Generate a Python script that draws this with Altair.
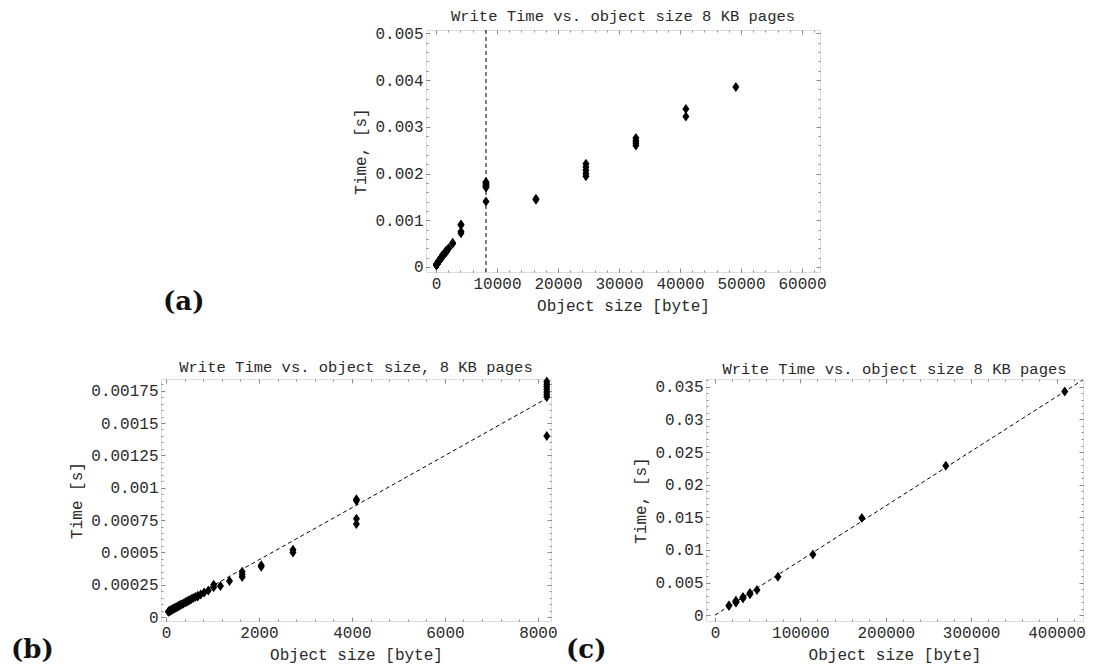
import altair as alt
import pandas as pd

# ---------------- data ----------------
small_sizes = [8192, 8192, 8192, 8192, 8192, 8192, 8192, 8192,
               4096, 4096, 4096, 4096,
               2731, 2731, 2048, 2048, 1638, 1638, 1638, 1365, 1170, 1024, 1024,
               910, 819, 745, 683, 683, 630, 585, 546, 512, 482, 455, 431, 410,
               372, 341, 315, 293, 273, 256, 234, 216, 200, 182, 164, 149, 137,
               120, 109, 96, 85, 74, 64, 55, 50]
small_times = [0.0014, 0.0017, 0.00172, 0.00174, 0.00176, 0.00178, 0.0018, 0.00182,
               0.00072, 0.00076, 0.0009, 0.00091,
               0.0005, 0.00052, 0.00039, 0.0004, 0.00031, 0.00033, 0.00035, 0.00028, 0.00024, 0.00023, 0.00025,
               0.000205, 0.00019, 0.000175, 0.000165, 0.00016, 0.000155, 0.000148, 0.00014, 0.000133,
               0.000127, 0.000122, 0.000117, 0.000113,
               0.000106, 0.0001, 0.000095, 0.00009, 0.000087, 0.000083, 0.000079, 0.000075, 0.000072,
               0.000068, 0.000065, 0.000062, 0.00006,
               0.000056, 0.000054, 0.000051, 0.000049, 0.000047, 0.000045, 0.000043, 0.000042]
mid_sizes = [16384, 16384, 24576, 24576, 24576, 24576, 24576,
             32768, 32768, 32768, 32768, 40960, 40960, 49152]
mid_times = [0.00144, 0.00146, 0.00194, 0.002, 0.00207, 0.00214, 0.00221,
             0.0026, 0.00265, 0.0027, 0.00276, 0.00322, 0.00338, 0.00385]
large_sizes = [73728, 114688, 172032, 270336, 409600]
large_times = [0.0059, 0.0093, 0.0149, 0.0229, 0.0343]

fit_b_x = [0, 8192]
fit_b_y = [0.00004, 0.00169]
fit_c_x = [0, 430000]
fit_c_y = [0.0, 0.0360]
page_size = [8192]

titles = ["Write Time vs. object size 8 KB pages",
          "Write Time vs. object size, 8 KB pages",
          "Write Time vs. object size 8 KB pages"]
x_title = "Object size [byte]"
y_titles = ["Time, [s]", "Time [s]", "Time, [s]"]
panel_labels = ["(a)", "(b)", "(c)"]

a_x_major = [0, 10000, 20000, 30000, 40000, 50000, 60000]
a_y_major = [0, 0.001, 0.002, 0.003, 0.004, 0.005]
b_x_major = [0, 2000, 4000, 6000, 8000]
b_y_major = [0, 0.00025, 0.0005, 0.00075, 0.001, 0.00125, 0.0015, 0.00175]
c_x_major = [0, 100000, 200000, 300000, 400000]
c_y_major = [0, 0.005, 0.01, 0.015, 0.02, 0.025, 0.03, 0.035]

a_x_minor = list(range(0, 62001, 2000))
a_y_minor = [round(i * 0.0002, 6) for i in range(26)]
b_x_minor = list(range(0, 8201, 400))
b_y_minor = [round(i * 0.00005, 6) for i in range(37)]
c_x_minor = list(range(0, 430001, 20000))
c_y_minor = [round(i * 0.001, 6) for i in range(37)]

a_xdom, a_ydom = [-1640, 62950], [-0.000107, 0.00507]
b_xdom, b_ydom = [-109, 8283], [-0.00003, 0.00184]
c_xdom, c_ydom = [-10500, 431000], [-0.0009, 0.0362]

MONO = "Liberation Mono"
SERIF = "DejaVu Serif"
TXT = "#2a2a2a"
DIAMOND = "M0,-1L0.7,0L0,1L-0.7,0Z"


def panel(df, xdom, ydom, xmaj, ymaj, xmin, ymin, title, ytitle, label,
          lx, ly, w, h, extra):
    sx = alt.Scale(domain=xdom, nice=False, zero=False)
    sy = alt.Scale(domain=ydom, nice=False, zero=False)
    corners = pd.DataFrame({"x": xdom, "y": ydom})

    def ax(orient, values, size, labels=False, ttl=None, fmt="d"):
        kw = dict(orient=orient, values=values, tickSize=size, offset=-size,
                  labels=labels, domain=False, grid=False, ticks=True)
        if labels:
            kw.update(format=fmt, labelPadding=3, labelFont=MONO,
                      labelFontSize=16, labelColor=TXT)
        if ttl:
            kw.update(title=ttl, titleFont=MONO, titleFontSize=16,
                      titleFontWeight="normal", titleColor=TXT, titlePadding=6)
        else:
            kw.update(title=None)
        return alt.Axis(**kw)

    pts = alt.Chart(df).mark_point(shape=DIAMOND, size=100, filled=True,
                                   color="black", opacity=1).encode(
        x=alt.X("x:Q", scale=sx, axis=ax("bottom", xmaj, 4, True, x_title, "d")),
        y=alt.Y("y:Q", scale=sy, axis=ax("left", ymaj, 4, True, ytitle, ".6~g")),
    )
    layers = [pts]
    for xo, yo, vals_x, vals_y, s in [("top", "right", xmaj, ymaj, 4),
                                      ("bottom", "left", xmin, ymin, 2),
                                      ("top", "right", xmin, ymin, 2)]:
        layers.append(alt.Chart(corners).mark_point(opacity=0, size=0).encode(
            x=alt.X("x:Q", scale=sx, axis=ax(xo, vals_x, s)),
            y=alt.Y("y:Q", scale=sy, axis=ax(yo, vals_y, s)),
        ))
    for e in extra:
        layers.append(e(sx, sy))
    layers.append(alt.Chart(pd.DataFrame({"t": [label]})).mark_text(
        align="left", baseline="middle", font=SERIF, fontWeight="bold",
        fontSize=26, color="#111").encode(
        x=alt.value(lx), y=alt.value(ly), text="t:N"))
    return alt.layer(*layers).resolve_axis(x="independent", y="independent").properties(
        width=w, height=h,
        title=alt.TitleParams(title, font=MONO, fontSize=15.5, fontWeight="normal",
                              color=TXT, anchor="middle", frame="group", offset=1))


def fit_line(xs, ys):
    def f(sx, sy):
        return alt.Chart(pd.DataFrame({"x": xs, "y": ys})).mark_line(
            color="black", strokeWidth=1, strokeDash=[4, 3]).encode(
            x=alt.X("x:Q", scale=sx, axis=None), y=alt.Y("y:Q", scale=sy, axis=None))
    return f


def vrule(xs):
    def f(sx, sy):
        return alt.Chart(pd.DataFrame({"x": xs})).mark_rule(
            color="black", strokeWidth=1, strokeDash=[4, 3]).encode(
            x=alt.X("x:Q", scale=sx, axis=None))
    return f


df_a = pd.DataFrame({"x": small_sizes + mid_sizes, "y": small_times + mid_times})
df_b = pd.DataFrame({"x": small_sizes, "y": small_times})
df_c = pd.DataFrame({"x": mid_sizes + large_sizes, "y": mid_times + large_times})

pa = panel(df_a, a_xdom, a_ydom, a_x_major, a_y_major, a_x_minor, a_y_minor,
           titles[0], y_titles[0], panel_labels[0], -263, 272, 394, 242, [vrule(page_size)])
pb = panel(df_b, b_xdom, b_ydom, b_x_major, b_y_major, b_x_minor, b_y_minor,
           titles[1], y_titles[1], panel_labels[1], -150, 271, 390, 242, [fit_line(fit_b_x, fit_b_y)])
pc = panel(df_c, c_xdom, c_ydom, c_x_major, c_y_major, c_x_minor, c_y_minor,
           titles[2], y_titles[2], panel_labels[2], -140, 271, 377, 242, [fit_line(fit_c_x, fit_c_y)])

spacer = alt.Chart(pd.DataFrame({"v": [0]})).mark_point(opacity=0, size=0).encode(
    x=alt.value(0), y=alt.value(0)).properties(
    width=1, height=1, view=alt.ViewBackground(stroke=None))

row1 = alt.hconcat(spacer, pa, spacing=0)
row2 = alt.hconcat(pb, pc, spacing=7)

chart = alt.vconcat(row1, row2, spacing=43).properties(
    padding={"left": 2, "top": 0, "right": 2, "bottom": 2}
).configure_view(stroke="#333", strokeWidth=1).configure_axis(
    tickColor="#333", tickWidth=1
).configure(background="white")

chart.save("out.html", embed_options={"renderer": "svg", "actions": False})
